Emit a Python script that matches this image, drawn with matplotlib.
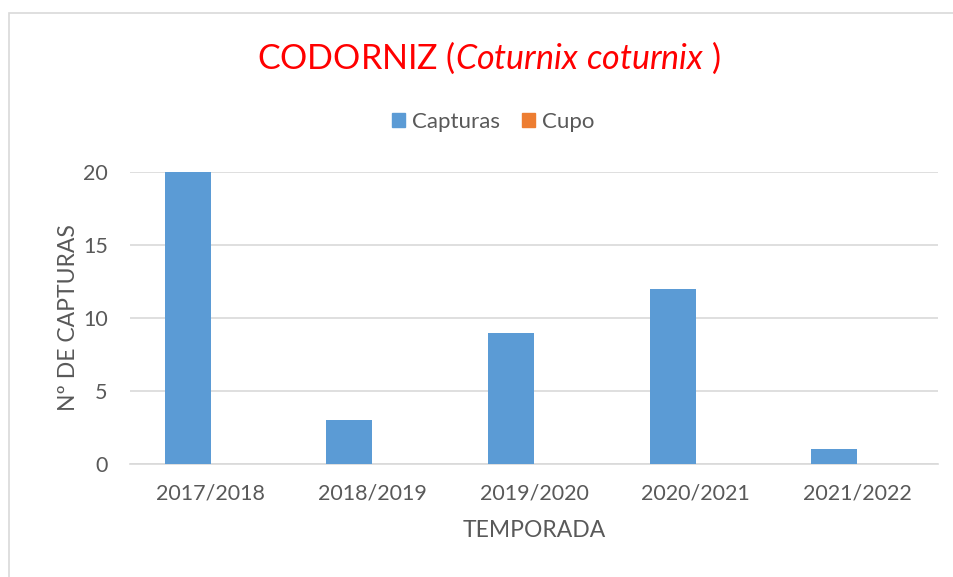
import matplotlib
matplotlib.use("Agg")
import matplotlib.pyplot as plt
from matplotlib.patches import Rectangle, Patch
import numpy as np

categories = ["2017/2018", "2018/2019", "2019/2020", "2020/2021", "2021/2022"]
capturas = [20, 3, 9, 12, 1]
cupo = [0, 0, 0, 0, 0]
yticks = [0, 5, 10, 15, 20]

plt.rcParams['font.family'] = ['Lato', 'DejaVu Sans']
plt.rcParams['mathtext.fontset'] = 'custom'
plt.rcParams['mathtext.rm'] = 'Lato'
plt.rcParams['mathtext.it'] = 'Lato:italic'
TXT = '#595959'
BLUE = '#5B9BD5'
ORANGE = '#ED7D31'

fig = plt.figure(figsize=(9.54, 5.77), dpi=100)
ax = fig.add_axes([130/954, 1-464/577, (938-130)/954, (464-172)/577])

x = np.arange(len(categories))
w = 0.285
ax.bar(x - w/2, capturas, w, color=BLUE, label='Capturas', zorder=3)
ax.bar(x + w/2, cupo, w, color=ORANGE, label='Cupo', zorder=3)

ax.set_xlim(-0.5, len(categories) - 0.5)
ax.set_ylim(0, 20)
ax.set_yticks(yticks)
ax.set_xticks(x)
ax.set_xticklabels(categories)
ax.tick_params(axis='both', length=0, labelsize=15.5, colors=TXT)
ax.tick_params(axis='y', pad=16)
ax.tick_params(axis='x', pad=14)
ax.grid(axis='y', color='#D9D9D9', linewidth=1.2, zorder=0)
for s in ['top', 'right', 'left']:
    ax.spines[s].set_visible(False)
ax.spines['bottom'].set_color('#D9D9D9')
ax.spines['bottom'].set_linewidth(1.2)

ax.set_ylabel('Nº DE CAPTURAS', fontsize=16.5, color=TXT, labelpad=3)
ax.set_xlabel('TEMPORADA', fontsize=16.5, color=TXT, labelpad=12)

fig.text(489/954, 1-58/577, r'CODORNIZ ($\it{Coturnix\ coturnix}$ )', ha='center', va='center',
         fontsize=24.5, color='#FF0000')

handles = [Patch(color=BLUE), Patch(color=ORANGE)]
fig.legend(handles, ['Capturas', 'Cupo'], loc='center', bbox_to_anchor=(493/954, 1-122/577),
           ncol=2, frameon=False, fontsize=16, labelcolor=TXT, handlelength=0.6,
           handleheight=0.6, handletextpad=0.3, columnspacing=1.0)

fig.patches.append(Rectangle((9/954, -0.1), 1.2, 1 - 13/577 + 0.1, transform=fig.transFigure,
                             fill=False, edgecolor='#D9D9D9', linewidth=1.2))

fig.savefig('out.png', dpi=100)
